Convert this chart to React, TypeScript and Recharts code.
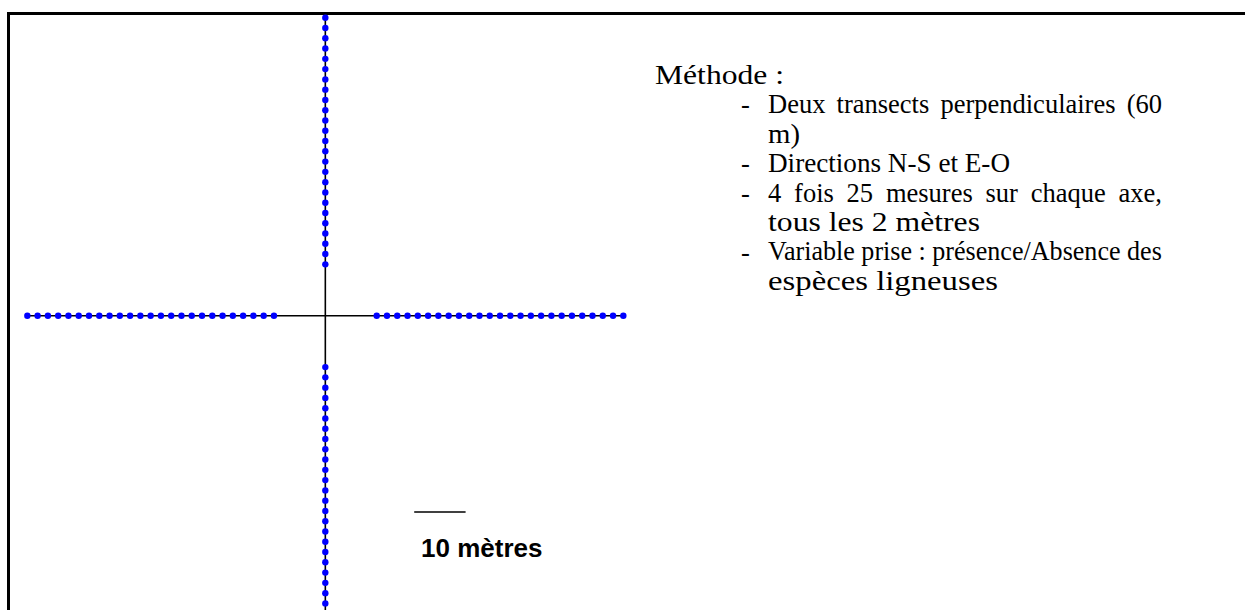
import React, { useLayoutEffect, useRef, useState } from 'react';
import { ScatterChart, Scatter, XAxis, YAxis, ReferenceLine } from 'recharts';

// Measurement points (metres from the centre of the cross)
const westX = [-58, -56, -54, -52, -50, -48, -46, -44, -42, -40, -38, -36, -34, -32, -30, -28, -26, -24, -22, -20, -18, -16, -14, -12, -10];
const eastX = [10, 12, 14, 16, 18, 20, 22, 24, 26, 28, 30, 32, 34, 36, 38, 40, 42, 44, 46, 48, 50, 52, 54, 56, 58];
const northY = [10, 12, 14, 16, 18, 20, 22, 24, 26, 28, 30, 32, 34, 36, 38, 40, 42, 44, 46, 48, 50, 52, 54, 56, 58];
const southY = [-10, -12, -14, -16, -18, -20, -22, -24, -26, -28, -30, -32, -34, -36, -38, -40, -42, -44, -46, -48, -50, -52, -54, -56, -58];

// Transect line extents (metres)
const ewExtent = [-58, 58];
const nsExtent = [-60, 59];

// Scale bar (metres)
const scaleBarStart = 17.3;
const scaleBarLength = 10;
const scaleBarY = -38.2;
const scaleBarLabel = '10 mètres';

const titleText = 'Méthode :';
const methodItems: string[][] = [
  ['Deux transects perpendiculaires (60', 'm)'],
  ['Directions N-S et E-O'],
  ['4 fois 25 mesures sur chaque axe,', 'tous les 2 mètres'],
  ['Variable prise : présence/Absence des', 'espèces ligneuses'],
];

const westData = westX.map((x) => ({ x, y: 0 }));
const eastData = eastX.map((x) => ({ x, y: 0 }));
const northData = northY.map((y) => ({ x: 0, y }));
const southData = southY.map((y) => ({ x: 0, y }));

const Dot = (props: any) => {
  const { cx, cy } = props;
  if (cx == null || cy == null) return null;
  return <circle cx={cx} cy={cy} r={3.2} fill="#0000ff" />;
};

// ---- text layout (pixels) ----
const serif = '"Liberation Serif", "Times New Roman", serif';
const LINE_H = 29.5;
const FIRST_BASELINE = 83.5;
const TITLE_X = 655;
const TITLE_W = 129;
const DASH_X = 741;
const TEXT_X = 768;
const COL_W = 394;
// rendered width of each text row; 0 = fully justified across the column
const ROW_W = [0, 32, 242, 0, 212, 0, 230];

function JustifiedLine({ x, y, width, text }: { x: number; y: number; width: number; text: string }) {
  const ref = useRef<SVGTextElement>(null);
  const [ws, setWs] = useState(0);
  const [sx, setSx] = useState(1);
  useLayoutEffect(() => {
    const el = ref.current;
    if (!el) return;
    const natural = el.getComputedTextLength();
    const gaps = text.split(' ').length - 1;
    if (natural < width && gaps > 0) setWs((width - natural) / gaps);
    else if (natural > width) setSx(width / natural);
  }, [text, width]);
  return (
    <text
      ref={ref}
      x={x}
      y={y}
      wordSpacing={ws}
      transform={`translate(${x} 0) scale(${sx} 1) translate(${-x} 0)`}
    >
      {text}
    </text>
  );
}

export default function App() {
  const rows: { dash: boolean; text: string }[] = [];
  methodItems.forEach((lines) => {
    lines.forEach((ln, j) => rows.push({ dash: j === 0, text: ln }));
  });

  return (
    <div style={{ position: 'absolute', left: 0, top: 0, width: 1245, height: 610, background: '#fff', overflow: 'hidden' }}>
      <div
        style={{
          position: 'absolute',
          left: 7,
          top: 12,
          width: 1245,
          height: 620,
          borderLeft: '3px solid #000',
          borderTop: '3px solid #000',
          boxSizing: 'border-box',
        }}
      />
      <div style={{ position: 'absolute', left: 0, top: 0 }}>
        <ScatterChart width={1245} height={610} margin={{ top: 0, right: 0, bottom: 0, left: 0 }}>
          <XAxis type="number" dataKey="x" domain={[-63.32, 179.0]} hide allowDataOverflow />
          <YAxis type="number" dataKey="y" domain={[-57.28, 61.45]} hide allowDataOverflow />
          <ReferenceLine
            segment={[{ x: ewExtent[0], y: 0 }, { x: ewExtent[1], y: 0 }]}
            stroke="#000"
            strokeWidth={1.6}
            ifOverflow="visible"
          />
          <ReferenceLine
            segment={[{ x: 0, y: nsExtent[0] }, { x: 0, y: nsExtent[1] }]}
            stroke="#000"
            strokeWidth={1.6}
            ifOverflow="visible"
          />
          <ReferenceLine
            segment={[
              { x: scaleBarStart, y: scaleBarY },
              { x: scaleBarStart + scaleBarLength, y: scaleBarY },
            ]}
            stroke="#000"
            strokeWidth={1.6}
            ifOverflow="visible"
          />
          <Scatter data={westData} shape={Dot} isAnimationActive={false} />
          <Scatter data={eastData} shape={Dot} isAnimationActive={false} />
          <Scatter data={northData} shape={Dot} isAnimationActive={false} />
          <Scatter data={southData} shape={Dot} isAnimationActive={false} />
        </ScatterChart>
      </div>

      <div
        style={{
          position: 'absolute',
          left: 421,
          top: 535,
          fontFamily: '"Liberation Sans", Arial, sans-serif',
          fontWeight: 'bold',
          fontSize: 26,
          lineHeight: '26px',
          whiteSpace: 'nowrap',
          color: '#000',
        }}
      >
        {scaleBarLabel}
      </div>

      <svg
        width={1245}
        height={610}
        style={{ position: 'absolute', left: 0, top: 0, pointerEvents: 'none' }}
        fontFamily={serif}
        fontSize={26.5}
        fill="#000"
      >
        <text x={TITLE_X} y={FIRST_BASELINE} textLength={TITLE_W} lengthAdjust="spacingAndGlyphs">
          {titleText}
        </text>
        {rows.map((row, i) => {
          const y = FIRST_BASELINE + (i + 1) * LINE_H;
          return (
            <g key={i}>
              {row.dash && (
                <text x={DASH_X} y={y}>
                  -
                </text>
              )}
              {ROW_W[i] === 0 ? (
                <JustifiedLine x={TEXT_X} y={y} width={COL_W} text={row.text} />
              ) : (
                <text x={TEXT_X} y={y} textLength={ROW_W[i]} lengthAdjust="spacingAndGlyphs">
                  {row.text}
                </text>
              )}
            </g>
          );
        })}
      </svg>
    </div>
  );
}
